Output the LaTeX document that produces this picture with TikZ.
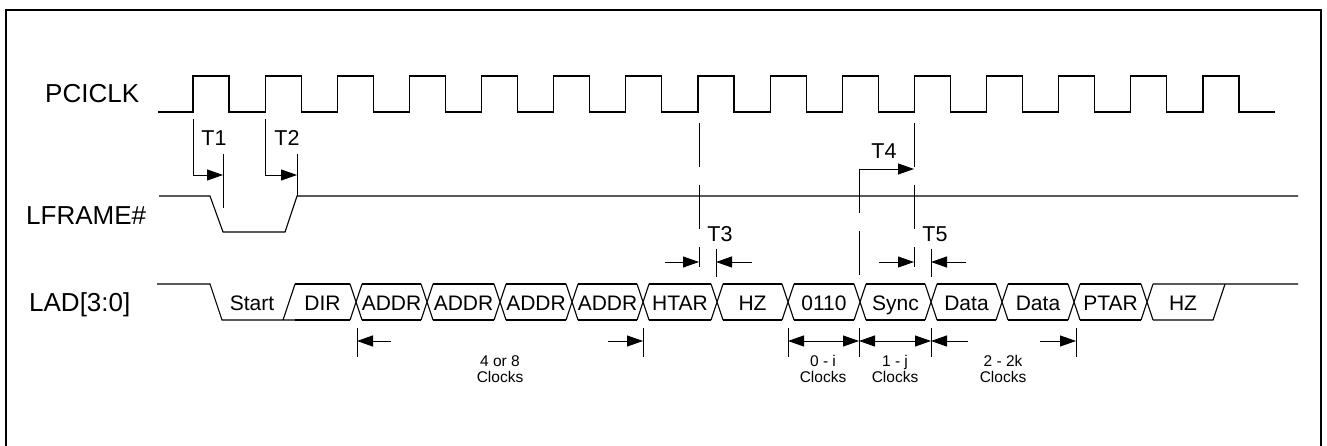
\documentclass[tikz,border=0pt]{standalone}
\usepackage{fontspec}
\setmainfont{Liberation Sans}
\usetikzlibrary{arrows.meta}
\tikzset{
  sig/.style={line width=1.1pt, black},
  guide/.style={line width=0.9pt, dash pattern=on 44pt off 18pt},
  tarr/.style={-{Triangle[length=16pt, width=11pt]}, line width=0.9pt},
  darr/.style={{Triangle[length=16pt, width=11pt]}-{Triangle[length=16pt, width=11pt]}, line width=0.9pt},
  tick/.style={line width=0.9pt},
  signame/.style={font=\fontsize{26}{30}\selectfont, anchor=base west, inner sep=0pt},
  tlab/.style={font=\fontsize{21.5}{24}\selectfont, inner sep=0pt},
  bus/.style={font=\fontsize{21}{24}\selectfont, anchor=base, inner sep=0pt},
  clk/.style={font=\fontsize{15.5}{16}\selectfont, align=center, anchor=north, inner sep=0pt}
}

\begin{document}
\begin{tikzpicture}[x=1pt, y=-1pt]
  \useasboundingbox (0,0) rectangle (1327,446);
  \draw[line width=2.2pt] (6,446) -- (6,10) -- (1321,10) -- (1321,446);

  % signal names
  \node[signame] (pciclk) at (45,103) {PCICLK};
  \node[signame] (lframe) at (26,225) {LFRAME\#};
  \node[signame] (lad) at (29,311) {LAD[3:0]};

  % clock
  \draw[sig] (158,112) \foreach \k in {0,...,14}{
    -- ({193+72.14*\k},112) -- ++(0,-36) -- ++(36,0) -- ++(0,36)} -- (1275,112);

  % LFRAME#
  \draw[sig] (159,196) -- (210,196) -- (223,232) -- (285,232) -- (297,196) -- (1298,196);

  % LAD bus
  \draw[sig] (157,284) -- (210,284) -- (222,320) -- (295,320) (283,320) -- (295,284);
  \node[bus] (start) at (252,310) {Start};
  \foreach \a/\b/\t [count=\i] in {289/356/DIR, 356/427/ADDR, 427/500/ADDR,
      500/572/ADDR, 572/643/ADDR, 643/717/HTAR, 717/788/HZ, 788/860/0110,
      860/931/Sync, 931/1002/Data, 1002/1074/Data, 1074/1147/PTAR}{
    \draw[sig] (\a+6,284) -- (\b-6,284) (\a+6,320) -- (\b-6,320);
    \draw[sig] (\b-6,284) -- (\b+6,320) (\b-6,320) -- (\b+6,284);
    \node[bus] (seg\i) at ({(\a+\b)/2},310) {\t};
  }
  \draw[sig] (1298,284) -- (1153,284) (1153,320) -- (1213,320) -- (1225,284);
  \node[bus] (hzend) at (1183,310) {HZ};

  % T1, T2
  \draw[tarr] (193,119) |- (223,175);
  \draw[tick] (223,154) -- (223,208);
  \node[tlab] (t1) at (214,138) {T1};
  \draw[tarr] (265,119) |- (297,175);
  \draw[tick] (297,154) -- (297,196);
  \node[tlab] (t2) at (287,138) {T2};

  % T3
  \draw[guide] (699,123) -- (699,267);
  \draw[tarr] (665,262) -- (699,262);
  \draw[tick] (716,249) -- (716,277);
  \draw[tarr] (752,262) -- (716,262);
  \node[tlab] (t3) at (720,234) {T3};

  % T4, T5
  \draw[guide] (914,123) -- (914,267);
  \draw[guide] (859,169) -- (859,275);
  \draw[tarr] (859,169) -- (914,169);
  \node[tlab] (t4) at (884,151) {T4};
  \draw[tarr] (879,262) -- (914,262);
  \draw[tick] (931,249) -- (931,277);
  \draw[tarr] (966,262) -- (931,262);
  \node[tlab] (t5) at (935,234) {T5};

  % clock counts
  \foreach \x in {357,643,788,859,931,1076}
    \draw[tick] (\x,328) -- (\x,357);
  \draw[tarr] (391,341) -- (357,341);
  \draw[tarr] (608,341) -- (643,341);
  \draw[darr] (788,341) -- (859,341);
  \draw[darr] (859,341) -- (931,341);
  \draw[tarr] (968,341) -- (931,341);
  \draw[tarr] (1040,341) -- (1076,341);
  \node[clk] (c48) at (500,355) {4 or 8\\Clocks};
  \node[clk] (c0i) at (823,355) {0 - i\\Clocks};
  \node[clk] (c1j) at (895,355) {1 - j\\Clocks};
  \node[clk] (c2k) at (1003,355) {2 - 2k\\Clocks};
\end{tikzpicture}
\end{document}
